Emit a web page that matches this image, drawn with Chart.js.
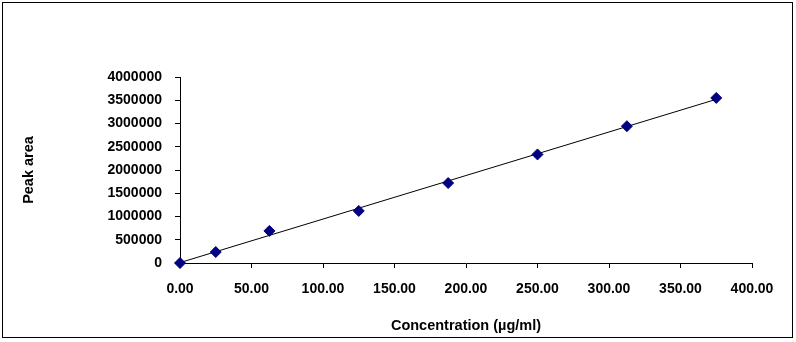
<!DOCTYPE html>
<html>
<head>
<meta charset="utf-8">
<script src="https://cdn.jsdelivr.net/npm/chart.js@4"></script>
<style>
  body { margin: 0; background: #fff; }
  #wrap { width: 796px; height: 342px; }
</style>
</head>
<body>
<div id="wrap"><canvas id="calChart" width="796" height="342"></canvas></div>
<script>
// calibration data
const concentration = [0, 25, 62.5, 125, 187.5, 250, 312.5, 375];
const peakArea = [0, 236000, 690000, 1120000, 1720000, 2335000, 2942000, 3550000];
const xTicks = [0, 50, 100, 150, 200, 250, 300, 350, 400];
const yTicks = [0, 500000, 1000000, 1500000, 2000000, 2500000, 3000000, 3500000, 4000000];

// linear trendline (least squares) over the data range
const n = concentration.length;
const mx = concentration.reduce((a, b) => a + b, 0) / n;
const my = peakArea.reduce((a, b) => a + b, 0) / n;
let sxy = 0, sxx = 0;
for (let i = 0; i < n; i++) {
  sxy += (concentration[i] - mx) * (peakArea[i] - my);
  sxx += (concentration[i] - mx) ** 2;
}
const slope = sxy / sxx;
const intercept = my - slope * mx;
const xMin = Math.min(...concentration), xMax = Math.max(...concentration);

const FONT = "'Liberation Sans', Arial, sans-serif";

// thin frame round the whole chart
const framePlugin = {
  id: "frame",
  afterDraw(chart) {
    const ctx = chart.ctx;
    ctx.save();
    ctx.strokeStyle = "#000";
    ctx.lineWidth = 1;
    ctx.strokeRect(2.5, 2.5, 790, 335);
    ctx.restore();
  }
};

new Chart(document.getElementById("calChart"), {
  type: "scatter",
  data: {
    datasets: [
      {
        label: "Peak area",
        data: concentration.map((x, i) => ({ x: x, y: peakArea[i] })),
        pointStyle: "rectRot",
        pointRadius: 5.5,
        backgroundColor: "#000080",
        borderColor: "#000080",
        borderWidth: 1,
        showLine: false,
        clip: false
      },
      {
        label: "Linear",
        data: [
          { x: xMin, y: intercept + slope * xMin },
          { x: xMax, y: intercept + slope * xMax }
        ],
        type: "line",
        borderColor: "#000",
        borderWidth: 1,
        pointRadius: 0,
        fill: false,
        clip: false
      }
    ]
  },
  options: {
    responsive: false,
    animation: false,
    layout: { padding: { left: 10, right: 44, top: 77, bottom: 5 } },
    plugins: {
      legend: { display: false },
      tooltip: { enabled: false }
    },
    scales: {
      x: {
        type: "linear",
        min: 0,
        max: 400,
        afterBuildTicks: (scale) => { scale.ticks = xTicks.map(v => ({ value: v })); },
        afterFit: (scale) => { scale.height = 74; },
        ticks: {
          color: "#000",
          font: { family: FONT, size: 14, weight: "bold" },
          padding: 13,
          maxRotation: 0,
          callback: (v) => Number(v).toFixed(2)
        },
        grid: { drawOnChartArea: false, drawTicks: true, tickLength: 5, color: "#000" },
        border: { color: "#000", width: 1 },
        title: {
          display: true,
          text: "Concentration (µg/ml)",
          color: "#000",
          font: { family: FONT, size: 14.5, weight: "bold" },
          padding: { top: 0, bottom: 2 }
        }
      },
      y: {
        type: "linear",
        min: 0,
        max: 4000000,
        afterBuildTicks: (scale) => { scale.ticks = yTicks.map(v => ({ value: v })); },
        afterFit: (scale) => { scale.width = 170; },
        ticks: {
          color: "#000",
          font: { family: FONT, size: 14, weight: "bold" },
          padding: 13,
          callback: (v) => String(v)
        },
        grid: { drawOnChartArea: false, drawTicks: true, tickLength: 5, color: "#000" },
        border: { color: "#000", width: 1 },
        title: {
          display: true,
          text: "Peak area",
          color: "#000",
          font: { family: FONT, size: 14.5, weight: "bold" },
          padding: { top: 10, bottom: 0 }
        }
      }
    }
  },
  plugins: [framePlugin]
});
</script>
</body>
</html>
